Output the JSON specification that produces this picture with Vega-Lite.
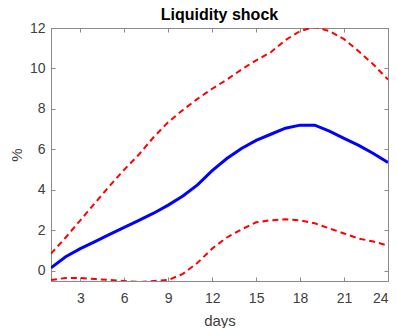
{
  "$schema": "https://vega.github.io/schema/vega-lite/v6.json",
  "autosize": "none",
  "width": 337,
  "height": 253,
  "padding": {"left": 51, "top": 28, "right": 9, "bottom": 47},
  "background": "white",
  "title": {"text": "Liquidity shock", "font": "Liberation Sans", "fontSize": 16, "fontWeight": "bold", "color": "black", "offset": -2},
  "config": {
    "view": {"stroke": "#8a8a8a", "strokeWidth": 1},
    "axis": {"grid": false, "domainColor": "#8a8a8a", "tickColor": "#8a8a8a", "labelColor": "#404040", "labelFont": "Liberation Sans", "labelFontSize": 14, "titleFont": "Liberation Sans", "titleFontSize": 15, "titleColor": "#404040", "titleFontWeight": "normal", "tickSize": -4}
  },
  "data": {"values": [
    {"day": 1, "mean": 0.15, "upper": 0.85, "lower": -0.45},
    {"day": 2, "mean": 0.7, "upper": 1.65, "lower": -0.35},
    {"day": 3, "mean": 1.1, "upper": 2.5, "lower": -0.35},
    {"day": 4, "mean": 1.45, "upper": 3.35, "lower": -0.4},
    {"day": 5, "mean": 1.8, "upper": 4.2, "lower": -0.45},
    {"day": 6, "mean": 2.15, "upper": 5.0, "lower": -0.5},
    {"day": 7, "mean": 2.5, "upper": 5.75, "lower": -0.55},
    {"day": 8, "mean": 2.85, "upper": 6.6, "lower": -0.5},
    {"day": 9, "mean": 3.25, "upper": 7.35, "lower": -0.45},
    {"day": 10, "mean": 3.7, "upper": 7.95, "lower": -0.15},
    {"day": 11, "mean": 4.25, "upper": 8.5, "lower": 0.4},
    {"day": 12, "mean": 4.95, "upper": 9.0, "lower": 1.1},
    {"day": 13, "mean": 5.55, "upper": 9.45, "lower": 1.65},
    {"day": 14, "mean": 6.05, "upper": 9.95, "lower": 2.05},
    {"day": 15, "mean": 6.45, "upper": 10.4, "lower": 2.4},
    {"day": 16, "mean": 6.75, "upper": 10.8, "lower": 2.5},
    {"day": 17, "mean": 7.05, "upper": 11.4, "lower": 2.55},
    {"day": 18, "mean": 7.2, "upper": 11.85, "lower": 2.5},
    {"day": 19, "mean": 7.2, "upper": 12.05, "lower": 2.35},
    {"day": 20, "mean": 6.9, "upper": 11.85, "lower": 2.1},
    {"day": 21, "mean": 6.55, "upper": 11.45, "lower": 1.85},
    {"day": 22, "mean": 6.2, "upper": 10.85, "lower": 1.6},
    {"day": 23, "mean": 5.8, "upper": 10.2, "lower": 1.45},
    {"day": 24, "mean": 5.35, "upper": 9.45, "lower": 1.25}
  ]},
  "layer": [
    {
      "mark": {"type": "line", "color": "#ff0000", "strokeWidth": 2, "strokeDash": [6, 4], "clip": true},
      "encoding": {
        "x": {"field": "day", "type": "quantitative", "scale": {"domain": [1, 24], "nice": false, "zero": false},
              "axis": {"orient": "top", "values": [3, 6, 9, 12, 15, 18, 21, 24], "labels": false, "title": null, "domain": false}},
        "y": {"field": "upper", "type": "quantitative", "scale": {"domain": [-0.5, 12], "nice": false, "zero": false},
              "axis": {"orient": "right", "values": [0, 2, 4, 6, 8, 10, 12], "labels": false, "title": null, "domain": false}}
      }
    },
    {
      "mark": {"type": "line", "color": "#ff0000", "strokeWidth": 2, "strokeDash": [6, 4], "clip": true},
      "encoding": {
        "x": {"field": "day", "type": "quantitative", "axis": null},
        "y": {"field": "lower", "type": "quantitative", "axis": null}
      }
    },
    {
      "mark": {"type": "line", "color": "#0000ff", "strokeWidth": 3, "clip": true},
      "encoding": {
        "x": {"field": "day", "type": "quantitative",
              "axis": {"orient": "bottom", "values": [3, 6, 9, 12, 15, 18, 21, 24], "title": "days", "labelPadding": 14, "titlePadding": 8}},
        "y": {"field": "mean", "type": "quantitative",
              "axis": {"orient": "left", "values": [0, 2, 4, 6, 8, 10, 12], "title": "%", "labelPadding": 10, "titlePadding": 5}}
      }
    }
  ],
  "resolve": {"axis": {"x": "independent", "y": "independent"}}
}
